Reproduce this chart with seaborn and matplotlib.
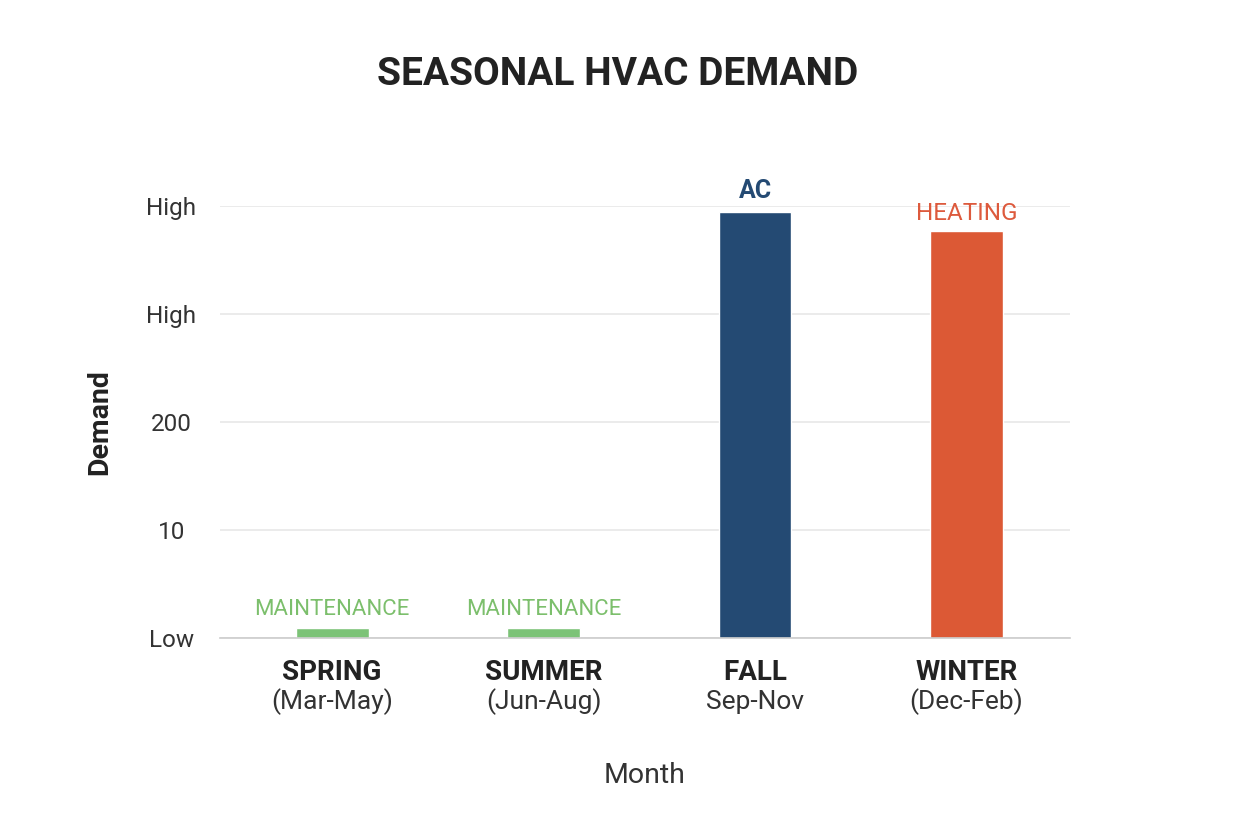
import matplotlib
matplotlib.use("Agg")
import matplotlib.pyplot as plt
import matplotlib.transforms as mtransforms
import seaborn as sns
import pandas as pd

seasons = ["SPRING", "SUMMER", "FALL", "WINTER"]
periods = ["(Mar-May)", "(Jun-Aug)", "Sep-Nov", "(Dec-Feb)"]
demand = [0.09, 0.09, 3.94, 3.77]
bar_labels = ["MAINTENANCE", "MAINTENANCE", "AC", "HEATING"]
ytick_values = [0, 1, 2, 3, 4]
ytick_labels = ["Low", "10", "200", "High", "High"]

bar_colors = ["#7cc377", "#7cc377", "#244a73", "#dc5935"]
label_colors = ["#7cbf6c", "#7cbf6c", "#244a73", "#dd5a3d"]
label_weights = ["normal", "normal", "bold", "normal"]
label_sizes = [16, 16, 18, 17.5]

sns.set_theme(style="white")
plt.rcParams["font.family"] = ["Roboto", "DejaVu Sans"]

df = pd.DataFrame({"season": seasons, "demand": demand})

fig = plt.figure(figsize=(12.48, 8.32), dpi=100)
ax = fig.add_axes([0.1763, 0.2332, 0.6811, 0.5192])

sns.barplot(data=df, x="season", y="demand", hue="season", palette=bar_colors,
            width=0.345, legend=False, ax=ax, saturation=1)

ax.set_xlim(-0.53, 3.49)
ax.set_ylim(0, 4)
ax.set_yticks(ytick_values)
ax.set_yticklabels(ytick_labels, fontsize=17.5, color="#333333", ha="center")
ax.tick_params(axis="y", length=0, pad=35)
ax.yaxis.grid(True, color="#e8e8e8", linewidth=1.2)
ax.set_axisbelow(True)
for s in ["top", "right", "left"]:
    ax.spines[s].set_visible(False)
ax.spines["bottom"].set_color("#cccccc")
ax.spines["bottom"].set_linewidth(1.2)

ax.set_xticks(range(len(seasons)))
ax.set_xticklabels(seasons, fontsize=20, fontweight="bold", color="#222222")
ax.tick_params(axis="x", length=0, pad=15)

trans = mtransforms.blended_transform_factory(ax.transData, ax.transAxes)
for i, p in enumerate(periods):
    ax.text(i, -0.148, p, transform=trans, ha="center", va="center",
            fontsize=19, color="#333333")

for i, (v, lab) in enumerate(zip(demand, bar_labels)):
    off = 0.175 if i < 2 else (0.2 if i == 2 else 0.16)
    ax.text(i, v + off, lab, ha="center", va="center", fontsize=label_sizes[i],
            color=label_colors[i], fontweight=label_weights[i], clip_on=False)

ax.set_xlabel("Month", fontsize=20.5, color="#333333", labelpad=55)
ax.set_ylabel("Demand", fontsize=20.5, fontweight="bold", color="#222222", labelpad=24)

fig.text(0.495, 0.91, "SEASONAL HVAC DEMAND", ha="center", va="center",
         fontsize=28, fontweight="bold", color="#222222")

fig.savefig("out.png", dpi=100, facecolor="white")
